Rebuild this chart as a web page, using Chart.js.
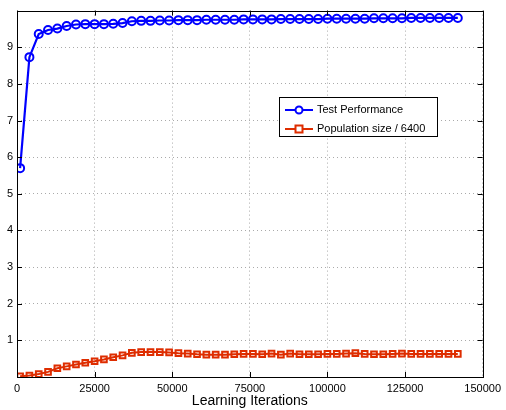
<!DOCTYPE html>
<html>
<head>
<meta charset="utf-8">
<script src="https://cdn.jsdelivr.net/npm/chart.js@4/dist/chart.umd.min.js"></script>
<style>
  html, body { margin: 0; padding: 0; background: #fff; }
  #wrap { width: 506px; height: 410px; }
</style>
</head>
<body>
<div id="wrap"><canvas id="chart" width="506" height="410"></canvas></div>
<script>
// learning iterations (x), every 3000 starting at 1000
var iterations = [1000, 4000, 7000, 10000, 13000, 16000, 19000, 22000, 25000, 28000,
  31000, 34000, 37000, 40000, 43000, 46000, 49000, 52000, 55000, 58000,
  61000, 64000, 67000, 70000, 73000, 76000, 79000, 82000, 85000, 88000,
  91000, 94000, 97000, 100000, 103000, 106000, 109000, 112000, 115000, 118000,
  121000, 124000, 127000, 130000, 133000, 136000, 139000, 142000];

var testPerformance = [5.7, 8.73, 9.36, 9.47, 9.51, 9.58, 9.62, 9.63, 9.63, 9.63,
  9.64, 9.66, 9.71, 9.72, 9.72, 9.73, 9.73, 9.74, 9.74, 9.74,
  9.75, 9.75, 9.75, 9.75, 9.76, 9.76, 9.76, 9.76, 9.77, 9.77,
  9.77, 9.77, 9.77, 9.78, 9.78, 9.78, 9.78, 9.78, 9.79, 9.79,
  9.79, 9.79, 9.80, 9.80, 9.80, 9.80, 9.80, 9.80];

var populationSize = [0.02, 0.04, 0.08, 0.14, 0.24, 0.29, 0.34, 0.39, 0.43, 0.48,
  0.54, 0.59, 0.66, 0.68, 0.68, 0.68, 0.67, 0.65, 0.64, 0.62,
  0.61, 0.61, 0.61, 0.62, 0.63, 0.63, 0.62, 0.64, 0.61, 0.64,
  0.62, 0.62, 0.62, 0.63, 0.63, 0.64, 0.65, 0.63, 0.62, 0.62,
  0.63, 0.64, 0.63, 0.63, 0.63, 0.63, 0.63, 0.63];

var seriesLabels = ["Test Performance", "Population size / 6400"];
var xTicks = [0, 25000, 50000, 75000, 100000, 125000, 150000];
var yTicks = [1, 2, 3, 4, 5, 6, 7, 8, 9];

var blue = 'rgb(0, 0, 255)';
var red = 'rgb(222, 45, 0)';
var FONT = '"Liberation Sans", Arial, sans-serif';

function toPoints(xs, ys) {
  return xs.map(function(x, i) { return { x: x, y: ys[i] }; });
}

// matlab style frame, inward ticks and legend
var matlabFrame = {
  id: 'matlabFrame',
  afterDatasetsDraw: function(chart) {
    var c = chart.ctx, a = chart.chartArea;
    var xs = chart.scales.x, ys = chart.scales.y;
    c.save();
    c.strokeStyle = '#000';
    c.lineWidth = 1;
    c.beginPath();
    xTicks.forEach(function(t) {
      var px = Math.round(xs.getPixelForValue(t)) + 0.5;
      c.moveTo(px, a.bottom); c.lineTo(px, a.bottom - 5);
      c.moveTo(px, a.top); c.lineTo(px, a.top + 5);
    });
    yTicks.forEach(function(t) {
      var py = Math.round(ys.getPixelForValue(t)) + 0.5;
      c.moveTo(a.left, py); c.lineTo(a.left + 5, py);
      c.moveTo(a.right, py); c.lineTo(a.right - 5, py);
    });
    c.stroke();
    c.strokeRect(Math.round(a.left) + 0.5, Math.round(a.top) + 0.5,
      Math.round(a.right - a.left), Math.round(a.bottom - a.top));

    // legend box
    var lx = 279.5, ly = 97.5, lw = 158, lh = 39;
    c.fillStyle = '#fff';
    c.fillRect(lx, ly, lw, lh);
    c.strokeRect(lx, ly, lw, lh);
    c.font = '11px ' + FONT;
    c.textBaseline = 'middle';
    var rows = [
      { y: 110, color: blue, style: 'circle' },
      { y: 129, color: red, style: 'rect' }
    ];
    rows.forEach(function(r, i) {
      c.strokeStyle = r.color;
      c.lineWidth = 2;
      c.beginPath();
      c.moveTo(285, r.y); c.lineTo(313, r.y);
      c.stroke();
      c.fillStyle = '#fff';
      c.beginPath();
      if (r.style === 'circle') {
        c.arc(299, r.y, 3.5, 0, Math.PI * 2);
      } else {
        c.rect(295.5, r.y - 3.5, 7, 7);
      }
      c.fill();
      c.stroke();
      c.fillStyle = '#000';
      c.fillText(chart.data.datasets[i].label, 317, r.y);
    });
    c.restore();
  }
};

var chart = new Chart(document.getElementById('chart').getContext('2d'), {
  type: 'line',
  data: {
    datasets: [
      {
        label: seriesLabels[0],
        data: toPoints(iterations, testPerformance),
        borderColor: blue,
        borderWidth: 2.2,
        pointStyle: 'circle',
        pointRadius: 4,
        pointBorderWidth: 2,
        pointBorderColor: blue,
        pointBackgroundColor: 'rgba(0,0,0,0)',
        tension: 0
      },
      {
        label: seriesLabels[1],
        data: toPoints(iterations, populationSize),
        borderColor: red,
        borderWidth: 2,
        pointStyle: 'rect',
        pointRadius: 4,
        pointBorderWidth: 2,
        pointBorderColor: red,
        pointBackgroundColor: 'rgba(0,0,0,0)',
        tension: 0
      }
    ]
  },
  options: {
    responsive: false,
    animation: false,
    layout: { padding: { top: 7, right: 20, left: 0, bottom: 0 } },
    plugins: {
      legend: { display: false },
      tooltip: { enabled: false }
    },
    scales: {
      x: {
        type: 'linear',
        min: 0,
        max: 150000,
        afterBuildTicks: function(s) { s.ticks = xTicks.map(function(v) { return { value: v }; }); },
        afterFit: function(s) { s.height = 33; },
        border: { display: false, dash: [1, 3] },
        grid: { color: '#aaa', drawTicks: false, lineWidth: 1 },
        ticks: { color: '#000', font: { family: FONT, size: 11 }, padding: 5, maxRotation: 0,
          callback: function(v) { return String(v); } },
        title: { display: true, text: 'Learning Iterations', color: '#000',
          font: { family: FONT, size: 14 }, padding: { top: 0, bottom: 0 } }
      },
      y: {
        min: 0,
        max: 10,
        afterBuildTicks: function(s) { s.ticks = yTicks.map(function(v) { return { value: v }; }); },
        afterFit: function(s) { s.width = 17; },
        border: { display: false, dash: [1, 3] },
        grid: { color: '#aaa', drawTicks: false, lineWidth: 1 },
        ticks: { color: '#000', font: { family: FONT, size: 11 }, padding: 4 }
      }
    }
  },
  plugins: [matlabFrame]
});
</script>
</body>
</html>
